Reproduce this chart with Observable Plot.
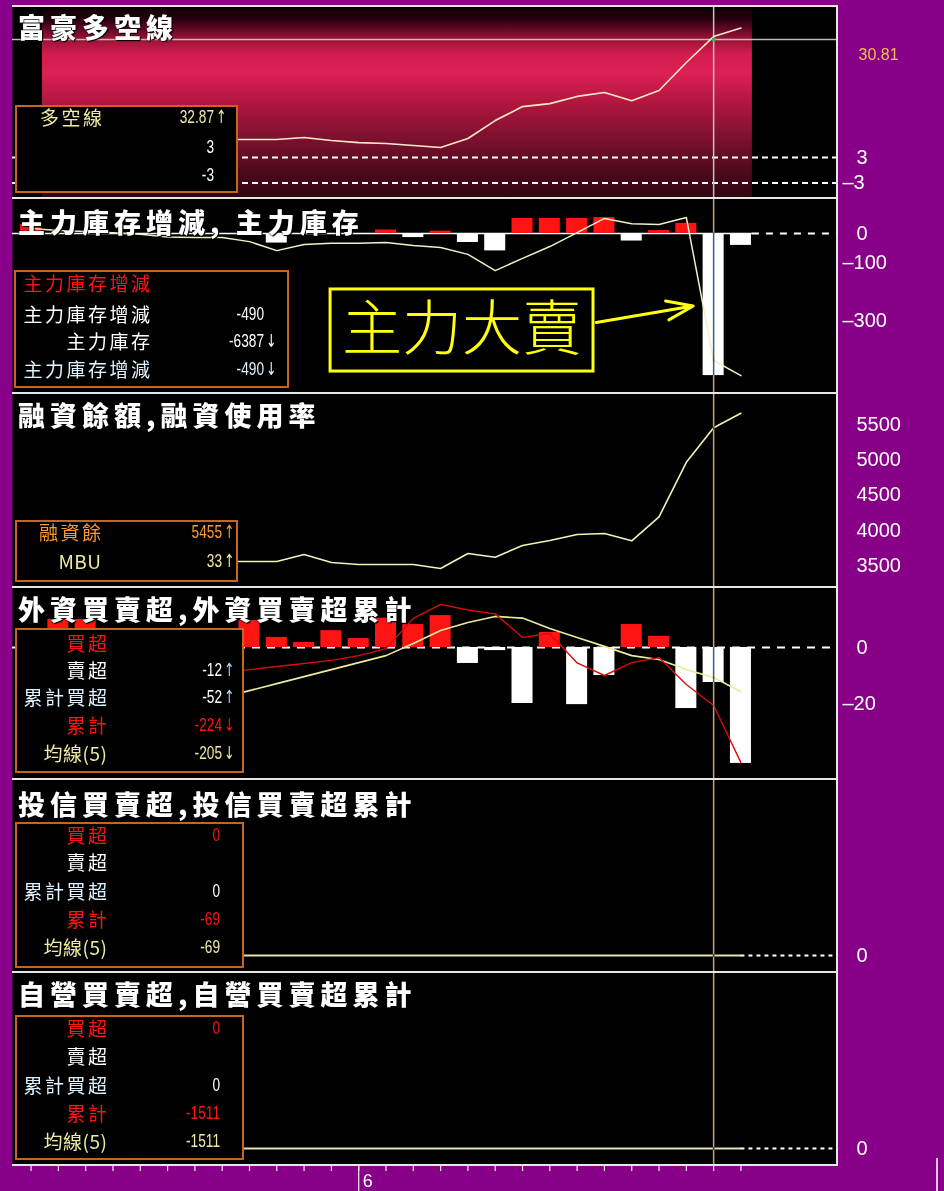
<!DOCTYPE html>
<html><head><meta charset="utf-8">
<script src="https://cdn.jsdelivr.net/npm/d3@7"></script>
<script src="https://cdn.jsdelivr.net/npm/@observablehq/plot@0.6"></script>
<style>
body{margin:0;background:#880088;}
#root{position:relative;width:944px;height:1191px;overflow:hidden;background:#880088;font-family:"Noto Sans CJK TC","Noto Sans CJK SC",sans-serif;}
.panel{position:absolute;left:0;}
.panel svg{display:block;}
.hline{position:absolute;background:#e6e6e6;pointer-events:none;}
.title{position:absolute;left:18px;color:#fff;font-weight:900;font-size:27px;letter-spacing:5px;line-height:1;white-space:nowrap;text-shadow:0 0 2px #000,1px 1px 1px #000;}
.lg{position:absolute;border:2px solid #c4661e;background:#000;box-sizing:border-box;}
.lab{position:absolute;font-size:19px;letter-spacing:2.5px;line-height:22px;height:22px;white-space:nowrap;text-align:right;width:220px;}
.val{position:absolute;font-family:"Liberation Sans",sans-serif;font-size:19px;line-height:22px;height:22px;white-space:nowrap;text-align:right;width:120px;transform:scaleX(0.72);transform-origin:right center;}
.arr{position:absolute;font-family:"DejaVu Sans",sans-serif;font-size:18px;line-height:22px;height:22px;white-space:nowrap;transform:scaleX(0.7);transform-origin:left center;}
</style></head><body><div id="root"></div>
<script>
// ---------------- data ----------------
const days = [0,1,2,3,4,5,6,7,8,9,10,11,12,13,14,15,16,17,18,19,20,21,22,23,24,25,26];
const cursorDay = 25;
const monthTicks = [{day: 12, label: "6"}];

// panel 1 富豪多空線
const bullBear = [null,null,null,null,null,null,null,7.24,7.24,7.24,7.71,7.0,6.5,6.3,5.83,5.36,7.48,11.7,15.0,15.7,17.4,18.3,16.4,18.8,25.4,31.5,33.5];
const bullBearRefs = [3, -3];
const bullBearCursor = 30.81;

// panel 2 主力庫存增減 / 主力庫存
const mainChange = [31,0,0,0,0,0,0,0,0,-33,0,0,0,12,-14,8,-31,-60,52,52,52,55,-26,10,35,-490,-41];
const mainInventory = [17,10,7,3,-3,-12,-14,-14,-28,-59,-38,-34,-34,-31,-41,-48,-72,-128,-86,-45,3,52,34,31,55,-438,-490];
const mainTicks = [0, -100, -300];
const annotationBox = [{text: "主力大賣", d1: 10.97, d2: 20.6, v1: -193, v2: -476}];
const annotationArrow = [{d1: 20.7, v1: -307, d2: 24.25, v2: -250}];

// panel 3 融資餘額
const marginBalance = [null,null,null,null,null,null,null,3557,3557,3557,3656,3543,3514,3514,3514,3457,3670,3618,3784,3855,3940,3954,3850,4190,4963,5455,5660];
const marginTicks = [5500, 5000, 4500, 4000, 3500];

// panel 4 外資買賣超
const foreignNet = [null,10,10,null,null,null,null,null,9.6,3.6,1.8,6,3.2,10.5,8.2,11.4,-5.7,-1.1,-20,5.4,-20.4,-10,8.2,4,-21.8,-12.5,-41.4];
const foreignCum = [null,null,null,null,null,null,null,-9.0,-7.9,-6.8,-5.7,-4.6,-2.9,-0.4,10.4,15.4,13.4,12.0,3.6,5.0,-5.5,-10,-5.4,-3.6,-13.2,-20.7,-41.1];
const foreignMA5 = [null,null,null,null,null,null,null,-17.9,-15.4,-12.9,-10.4,-7.9,-5.4,-2.9,1.4,6.1,8.9,11.1,10.5,6.8,3.6,0.4,-2.9,-4.3,-7.9,-10.7,-15.8];
const foreignTicks = [0, -20];

// panel 5 投信 / panel 6 自營
const trustCum = [null,null,null,null,null,null,null,0,0,0,0,0,0,0,0,0,0,0,0,0,0,0,0,0,0,0,0];
const dealerCum = [null,null,null,null,null,null,null,0,0,0,0,0,0,0,0,0,0,0,0,0,0,0,0,0,0,0,0];
const zeroTicks = [0];

// titles (text)
const titles = ["富豪多空線","主力庫存增減, 主力庫存","融資餘額,融資使用率","外資買賣超,外資買賣超累計","投信買賣超,投信買賣超累計","自營買賣超,自營買賣超累計"];

// ---------------- layout / style ----------------
const RED = "#ff1414", WHITE = "#ffffff", KHAKI = "#eeeaa0", ORANGE = "#ff9a2a", CYAN = "#dff2ff", LBLUE = "#a8d8ff", TAN = "#c8a27c";
const W = 944, ML = 12, MR = 108;
const X_DOMAIN = [-0.68, 29.5];
const edges = [6, 198, 393, 587, 779, 972, 1165];
const titleTops = [13, 208, 401, 595, 790, 980];
const last = days[days.length - 1];
const barHalf = 0.385;

const root = document.getElementById("root");
function yDomain(k, refPx, refVal, ppu) {
  return [refVal - (edges[k + 1] - refPx) / ppu, refVal + (refPx - edges[k]) / ppu];
}
function tickLabels(ticks, fmt) {
  return [
    Plot.text(ticks.filter(t => t >= 0), {y: d => d, text: fmt, frameAnchor: "right", dx: 20, textAnchor: "start", fill: WHITE, fontSize: 20, fontFamily: "Liberation Sans", ariaLabel: "ytick"}),
    Plot.text(ticks.filter(t => t < 0), {y: d => d, text: d => "–" + fmt(-d), frameAnchor: "right", dx: 6, textAnchor: "start", fill: WHITE, fontSize: 20, fontFamily: "Liberation Sans", ariaLabel: "ytick"})
  ];
}
function bars(values) {
  const pos = days.filter(d => values[d] != null && values[d] > 0);
  const neg = days.filter(d => values[d] != null && values[d] < 0);
  return [
    Plot.rect(pos, {x1: d => d - barHalf, x2: d => d + barHalf, y1: () => 0, y2: d => values[d], fill: RED}),
    Plot.rect(neg, {x1: d => d - barHalf, x2: d => d + barHalf, y1: () => 0, y2: d => values[d], fill: WHITE})
  ];
}
function cross(color, blend) {
  return Plot.ruleX([cursorDay], {x: d => d, stroke: color, strokeWidth: 1.5, mixBlendMode: blend});
}
function panel(k, domain, marks, letter = 2) {
  const h = edges[k + 1] - edges[k];
  const svg = Plot.plot({
    width: W, height: h, marginLeft: ML, marginRight: MR, marginTop: 0, marginBottom: 0,
    x: {domain: X_DOMAIN, axis: null},
    y: {domain, axis: null},
    style: {background: "transparent", overflow: "visible"},
    marks: [Plot.frame({fill: "black"}), ...marks]
  });
  d3.select(svg).selectAll('g[aria-label="ytick"] text').attr("letter-spacing", letter);
  const div = document.createElement("div");
  div.className = "panel";
  div.style.top = edges[k] + "px";
  div.appendChild(svg);
  root.appendChild(div);
  return svg;
}
const fmtInt = d => String(d);

// panel 1
{
  const dom = yDomain(0, 157, 3, 4.243);
  const svg = panel(0, dom, [
    Plot.rect([[days[0] + 0.42, last + 0.42]], {x1: d => d[0], x2: d => d[1], y1: () => dom[0], y2: () => dom[1], fill: "url(#p1grad)"}),
    Plot.ruleY(bullBearRefs, {y: d => d, stroke: WHITE, strokeWidth: 2, strokeDasharray: "6,4"}),
    Plot.ruleY([bullBearCursor], {y: d => d, stroke: "#bdbdbd", strokeWidth: 1.5}),
    cross("#c4c4c4", "normal"),
    Plot.line(days, {x: d => d, y: d => bullBear[d], stroke: "#ffe8c8", strokeWidth: 1.6}),
    Plot.dot([bullBearCursor], {x: () => cursorDay, y: d => d, r: 2, fill: "#30c040"}),
    Plot.text([bullBearCursor], {y: d => d, text: d => d.toFixed(2), frameAnchor: "right", dx: 22, dy: 15, textAnchor: "start", fill: "#f0c050", fontSize: 16, fontFamily: "Liberation Sans"}),
    ...tickLabels(bullBearRefs, fmtInt)
  ]);
  d3.select(svg).insert("defs", ":first-child").html(`
    <linearGradient id="p1grad" x1="0" y1="0" x2="0" y2="1">
      <stop offset="0" stop-color="#080003"/>
      <stop offset="0.07" stop-color="#2a0010"/>
      <stop offset="0.16" stop-color="#901034"/>
      <stop offset="0.25" stop-color="#d41c4e"/>
      <stop offset="0.35" stop-color="#dc2054"/>
      <stop offset="0.52" stop-color="#ac163c"/>
      <stop offset="0.70" stop-color="#7a102e"/>
      <stop offset="0.86" stop-color="#4e0a1c"/>
      <stop offset="1" stop-color="#2e0610"/>
    </linearGradient>`);
}

// panel 2
panel(1, yDomain(1, 233, 0, 0.29), [
  Plot.ruleY([0], {y: d => d, x1: () => X_DOMAIN[0], x2: () => last + 0.42, stroke: WHITE, strokeWidth: 1.5}),
  Plot.ruleY([0], {y: d => d, x1: () => last + 0.42, x2: () => X_DOMAIN[1], stroke: WHITE, strokeWidth: 2, strokeDasharray: "7,7"}),
  ...bars(mainChange),
  Plot.line(days, {x: d => d, y: d => mainInventory[d], stroke: "#f2f0c4", strokeWidth: 1.5}),
  cross(TAN, "difference"),
  Plot.rect(annotationBox, {x1: "d1", x2: "d2", y1: "v1", y2: "v2", fill: "black", stroke: "#ffff10", strokeWidth: 3}),
  Plot.text(annotationBox, {x: d => (d.d1 + d.d2) / 2, y: d => (d.v1 + d.v2) / 2, text: "text", fill: "#ffff10", fontSize: 60, fontWeight: 300, fontFamily: "Noto Sans CJK TC", ariaLabel: "annot"}),
  Plot.arrow(annotationArrow, {x1: "d1", y1: "v1", x2: "d2", y2: "v2", stroke: "#ffff10", strokeWidth: 3, headLength: 14, headAngle: 40}),
  ...tickLabels(mainTicks, fmtInt)
]);

// panel 3
panel(2, yDomain(2, 565, 3500, 0.0705), [
  Plot.line(days, {x: d => d, y: d => marginBalance[d], stroke: "#f4f2b8", strokeWidth: 1.6}),
  cross(TAN, "difference"),
  ...tickLabels(marginTicks, fmtInt)
], 4);

// panel 4
panel(3, yDomain(3, 647, 0, 2.8), [
  Plot.ruleY([0], {y: d => d, stroke: WHITE, strokeWidth: 2, strokeDasharray: "8,7"}),
  ...bars(foreignNet),
  Plot.line(days, {x: d => d, y: d => foreignMA5[d], stroke: "#ecec9c", strokeWidth: 1.6}),
  Plot.line(days, {x: d => d, y: d => foreignCum[d], stroke: "#d80c0c", strokeWidth: 1.4}),
  cross(TAN, "difference"),
  ...tickLabels(foreignTicks, fmtInt)
]);

// panels 5 & 6
[[4, 955, trustCum], [5, 1148, dealerCum]].forEach(([k, px, series]) => {
  panel(k, yDomain(k, px, 0, 1), [
    Plot.ruleY([0], {y: d => d, x1: () => last, x2: () => X_DOMAIN[1], stroke: WHITE, strokeWidth: 2, strokeDasharray: "4,4"}),
    Plot.line(days, {x: d => d, y: d => series[d], stroke: "#e4e0b0", strokeWidth: 2}),
    cross(TAN, "difference"),
    ...tickLabels(zeroTicks, fmtInt)
  ]);
});

// bottom axis
{
  const svg = Plot.plot({
    width: W, height: 26, marginLeft: ML, marginRight: MR, marginTop: 0, marginBottom: 0,
    x: {domain: X_DOMAIN, axis: null},
    y: {domain: [0, 1], axis: null},
    style: {background: "transparent", overflow: "visible"},
    marks: [
      Plot.ruleX(days, {x: d => d, y1: () => 1, y2: () => 0.77, stroke: "#f0f0f0", strokeWidth: 1.2}),
      Plot.ruleX(monthTicks, {x: "day", y1: () => 1, y2: () => 0, stroke: "#f0f0f0", strokeWidth: 1.2}),
      Plot.text(monthTicks, {x: "day", y: () => 0.4, text: "label", dx: 4, textAnchor: "start", fill: WHITE, fontSize: 18, fontFamily: "Liberation Sans"})
    ]
  });
  const div = document.createElement("div");
  div.className = "panel";
  div.style.top = edges[6] + "px";
  div.appendChild(svg);
  root.appendChild(div);
}

// borders
function box(cls, css) {
  const e = document.createElement("div");
  e.className = cls;
  for (const [k, v] of Object.entries(css)) e.style[k] = typeof v === "number" ? v + "px" : v;
  root.appendChild(e);
  return e;
}
for (const y of edges) box("hline", {left: 12, top: y - 1, width: 826, height: 2});
box("hline", {left: 836, top: edges[0] - 1, width: 2, height: edges[6] - edges[0] + 2});
box("hline", {left: 936, top: 1158, width: 2, height: 33, background: "#d8c8e0"});

// titles
titles.forEach((t, i) => { const e = box("title", {top: titleTops[i]}); e.textContent = t; });

// legends
const legends = [
  {x: 15, y: 105, w: 223, h: 88, lr: 102, vr: 214, rows: [
    {y: 117, label: "多空線", lc: KHAKI, value: "32.87", vc: KHAKI, arrow: "↑", ac: KHAKI},
    {y: 147, value: "3", vc: WHITE},
    {y: 175, value: "-3", vc: WHITE}]},
  {x: 14, y: 270, w: 275, h: 118, lr: 150, vr: 264, rows: [
    {y: 283, label: "主力庫存增減", lc: RED},
    {y: 314, label: "主力庫存增減", lc: WHITE, value: "-490", vc: WHITE},
    {y: 341, label: "主力庫存", lc: WHITE, value: "-6387", vc: WHITE, arrow: "↓", ac: WHITE},
    {y: 369, label: "主力庫存增減", lc: CYAN, value: "-490", vc: CYAN, arrow: "↓", ac: CYAN}]},
  {x: 15, y: 520, w: 223, h: 62, lr: 101, vr: 222, rows: [
    {y: 532, label: "融資餘", lc: ORANGE, value: "5455", vc: ORANGE, arrow: "↑", ac: ORANGE},
    {y: 561, label: "MBU", lc: KHAKI, value: "33", vc: KHAKI, arrow: "↑", ac: KHAKI, ls: 0.5}]},
  {x: 15, y: 628, w: 229, h: 145, lr: 107, vr: 222, rows: [
    {y: 643, label: "買超", lc: RED},
    {y: 670, label: "賣超", lc: WHITE, value: "-12", vc: WHITE, arrow: "↑", ac: LBLUE},
    {y: 697, label: "累計買超", lc: CYAN, value: "-52", vc: WHITE, arrow: "↑", ac: LBLUE},
    {y: 725, label: "累計", lc: RED, value: "-224", vc: RED, arrow: "↓", ac: RED},
    {y: 753, label: "均線(5)", lc: KHAKI, value: "-205", vc: KHAKI, arrow: "↓", ac: KHAKI, ls: 0.5}]},
  {x: 15, y: 822, w: 229, h: 146, lr: 107, vr: 220, rows: [
    {y: 835, label: "買超", lc: RED, value: "0", vc: RED},
    {y: 862, label: "賣超", lc: WHITE},
    {y: 891, label: "累計買超", lc: CYAN, value: "0", vc: WHITE},
    {y: 919, label: "累計", lc: RED, value: "-69", vc: RED},
    {y: 947, label: "均線(5)", lc: KHAKI, value: "-69", vc: KHAKI, ls: 0.5}]},
  {x: 15, y: 1015, w: 229, h: 145, lr: 107, vr: 220, rows: [
    {y: 1028, label: "買超", lc: RED, value: "0", vc: RED},
    {y: 1056, label: "賣超", lc: WHITE},
    {y: 1085, label: "累計買超", lc: CYAN, value: "0", vc: WHITE},
    {y: 1113, label: "累計", lc: RED, value: "-1511", vc: RED},
    {y: 1141, label: "均線(5)", lc: KHAKI, value: "-1511", vc: KHAKI, ls: 0.5}]}
];
for (const L of legends) {
  box("lg", {left: L.x, top: L.y, width: L.w, height: L.h});
  for (const r of L.rows) {
    if (r.label) {
      const ls = r.ls != null ? r.ls : 2.5;
      const e = box("lab", {left: L.lr - 220 + ls, top: r.y - 11, color: r.lc, letterSpacing: ls});
      e.textContent = r.label;
    }
    if (r.value) { const e = box("val", {left: L.vr - 120, top: r.y - 11, color: r.vc}); e.textContent = r.value; }
    if (r.arrow) { const e = box("arr", {left: L.vr + 2, top: r.y - 11, color: r.ac}); e.textContent = r.arrow; }
  }
}
</script></body></html>
